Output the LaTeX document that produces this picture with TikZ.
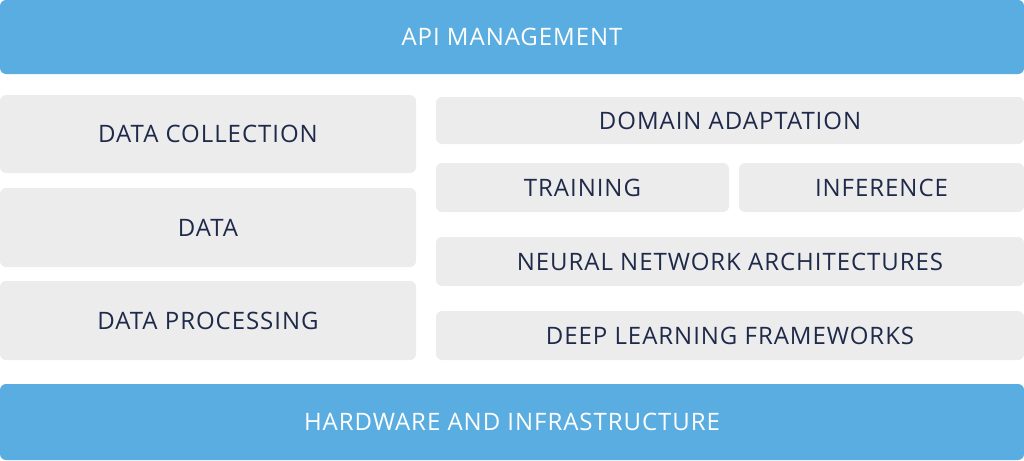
\documentclass[tikz,border=0pt]{standalone}
\usepackage{fontspec}
\setmainfont[LetterSpace=4]{Open Sans}
\usetikzlibrary{positioning}
\definecolor{barblue}{HTML}{5AADE0}
\definecolor{tilegrey}{HTML}{ECECEC}
\definecolor{inkblue}{HTML}{1F2A4A}
\begin{document}
\begin{tikzpicture}[x=1pt,y=-1pt,
    tile/.style={fill=tilegrey,rounded corners=6pt,inner sep=0pt,
      font=\fontsize{24}{28}\selectfont,text=inkblue},
    bar/.style={tile,fill=barblue,text=white}]
  % Frame
  \useasboundingbox (0,0) rectangle (1024,460);

  % Bars
  \node[bar,minimum width=1024pt,minimum height=74pt] (api) at (512,37) {API MANAGEMENT};
  \node[bar,minimum width=1024pt,minimum height=76pt] (hw) at (512,422) {HARDWARE AND INFRASTRUCTURE};

  % Data column
  \node[tile,minimum width=416pt,minimum height=78pt] (collect) at (208,134) {DATA COLLECTION};
  \node[tile,minimum width=416pt,minimum height=79pt] (data) at (208,227.5) {DATA};
  \node[tile,minimum width=416pt,minimum height=79pt] (process) at (208,320.5) {DATA PROCESSING};

  % Model column
  \node[tile,minimum width=588pt,minimum height=47pt] (domain) at (730,120.5) {DOMAIN ADAPTATION};
  \node[tile,minimum width=293pt,minimum height=49pt] (train) at (582.5,187.5) {TRAINING};
  \node[tile,minimum width=285pt,minimum height=49pt] (infer) at (881.5,187.5) {INFERENCE};
  \node[tile,minimum width=588pt,minimum height=49pt] (nets) at (730,261.5) {NEURAL NETWORK ARCHITECTURES};
  \node[tile,minimum width=588pt,minimum height=49pt] (frame) at (730,335.5) {DEEP LEARNING FRAMEWORKS};
\end{tikzpicture}
\end{document}
